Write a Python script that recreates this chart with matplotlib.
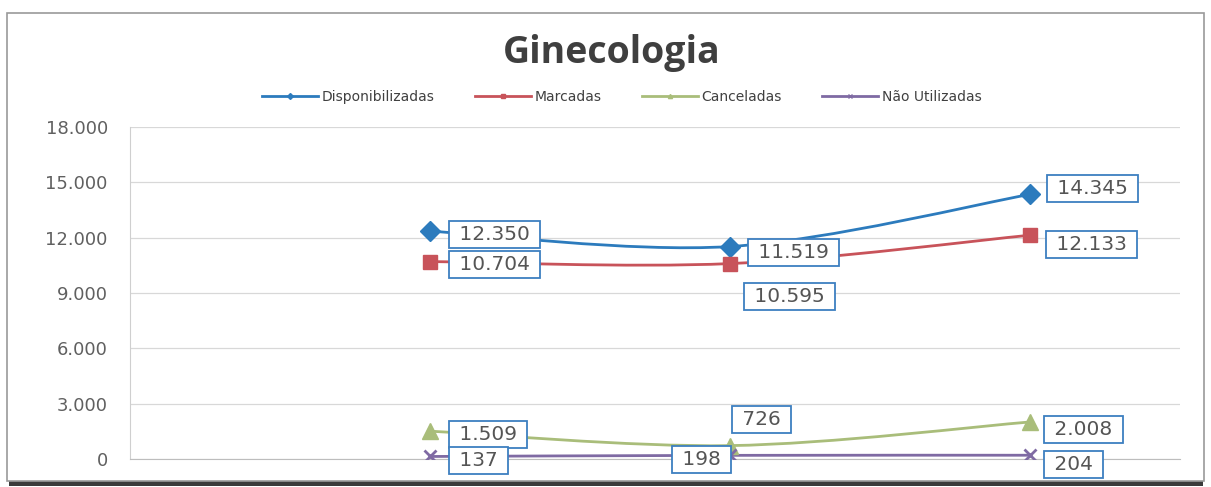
import matplotlib.pyplot as plt
import numpy as np
from matplotlib.path import Path
from matplotlib.patches import PathPatch, Rectangle
from matplotlib.lines import Line2D

# data
periods = [1, 2, 3]
disponibilizadas = [12350, 11519, 14345]
marcadas = [10704, 10595, 12133]
canceladas = [1509, 726, 2008]
nao_utilizadas = [137, 198, 204]
labels_text = {
    'Disponibilizadas': ['12.350', '11.519', '14.345'],
    'Marcadas': ['10.704', '10.595', '12.133'],
    'Canceladas': ['1.509', '726', '2.008'],
    'Não Utilizadas': ['137', '198', '204'],
}
yticks = [0, 3000, 6000, 9000, 12000, 15000, 18000]
ytick_labels = ['0', '3.000', '6.000', '9.000', '12.000', '15.000', '18.000']


def smooth_path(x, y):
    # bezier segments like a spreadsheet "smoothed line"
    pts = np.column_stack([x, y]).astype(float)
    ext = np.vstack([pts[0], pts, pts[-1]])
    verts = [pts[0]]
    codes = [Path.MOVETO]
    for i in range(len(pts) - 1):
        p0, p1, p2, p3 = ext[i], ext[i + 1], ext[i + 2], ext[i + 3]
        c1 = p1 + (p2 - p0) / 6
        c2 = p2 - (p3 - p1) / 6
        verts += [c1, c2, p2]
        codes += [Path.CURVE4] * 3
    return Path(verts, codes)


fig = plt.figure(figsize=(12.11, 4.87), dpi=100)

# chart frame with a dark shadow at the bottom
fig.patches.append(Rectangle((9 / 1211, 1 / 487), 1194 / 1211, 472 / 487,
                             transform=fig.transFigure, facecolor='#3a3a3a',
                             edgecolor='none', zorder=-10))
fig.patches.append(Rectangle((7 / 1211, 6 / 487), 1197 / 1211, 468 / 487,
                             transform=fig.transFigure, facecolor='white',
                             edgecolor='#9a9a9a', lw=1.2, zorder=-9))

ax = fig.add_axes([130 / 1211, 1 - 459 / 487, 1050 / 1211, 332 / 487])
ax.set_zorder(2)
ax.set_facecolor('none')
ax.set_xlim(0, 3.5)
ax.set_ylim(0, 18000)
ax.set_yticks(yticks)
ax.set_yticklabels(ytick_labels, fontsize=13, color='#606060', family='DejaVu Sans')
ax.tick_params(axis='y', length=0, pad=16)
ax.set_xticks([])
ax.grid(axis='y', color='#d8d8d8', lw=0.9)
for s in ['top', 'right']:
    ax.spines[s].set_visible(False)
ax.spines['left'].set_color('#cfcfcf')
ax.spines['bottom'].set_color('#bdbdbd')

series = [
    ('Disponibilizadas', disponibilizadas, '#2c7bbd', 'D', 10),
    ('Marcadas', marcadas, '#c8535a', 's', 10),
    ('Canceladas', canceladas, '#a9bd7a', '^', 11),
    ('Não Utilizadas', nao_utilizadas, '#7f6aa3', 'x', 9),
]

# label offsets in pixels (dx, dy, ha)
offsets = {
    'Disponibilizadas': [(23, -3, 'left'), (22, -6, 'left'), (21, 6, 'left')],
    'Marcadas': [(23, -3, 'left'), (18, -33, 'left'), (20, -9, 'left')],
    'Canceladas': [(23, -3, 'left'), (6, 26, 'left'), (18, -8, 'left')],
    'Não Utilizadas': [(23, -4, 'left'), (-3, -4, 'right'), (18, -9, 'left')],
}

handles = []
for name, vals, color, mk, ms in series:
    ax.add_patch(PathPatch(smooth_path(periods, vals), facecolor='none',
                           edgecolor=color, lw=2.0, zorder=3))
    ax.plot(periods, vals, linestyle='none', marker=mk, color=color, ms=ms,
            mew=2 if mk == 'x' else 1, zorder=4)
    for xv, yv, txt, (dx, dy, ha) in zip(periods, vals, labels_text[name], offsets[name]):
        ax.annotate(' ' + txt + ' ', (xv, yv), xytext=(dx, dy),
                    textcoords='offset pixels', ha=ha, va='center',
                    fontsize=14.5, color='#555555', family='DejaVu Sans',
                    zorder=5, annotation_clip=False,
                    bbox=dict(boxstyle='square,pad=0.2', fc='white',
                              ec='#3d7fc0', lw=1.3))
    handles.append(Line2D([], [], color=color, lw=2.0, marker=mk, ms=3))

fig.text(612 / 1211, 1 - 53 / 487, 'Ginecologia', ha='center', va='center',
         fontsize=27, fontweight='bold', color='#3f3f3f', family='Open Sans')

fig.legend(handles, [s[0] for s in series], loc='center',
           bbox_to_anchor=(622 / 1211, 1 - 97 / 487), ncol=4, frameon=False,
           prop={'family': 'DejaVu Sans', 'size': 10},
           handlelength=4.0, columnspacing=2.9, handletextpad=0.3,
           labelcolor='#404040')

fig.savefig('out.png', dpi=100)
